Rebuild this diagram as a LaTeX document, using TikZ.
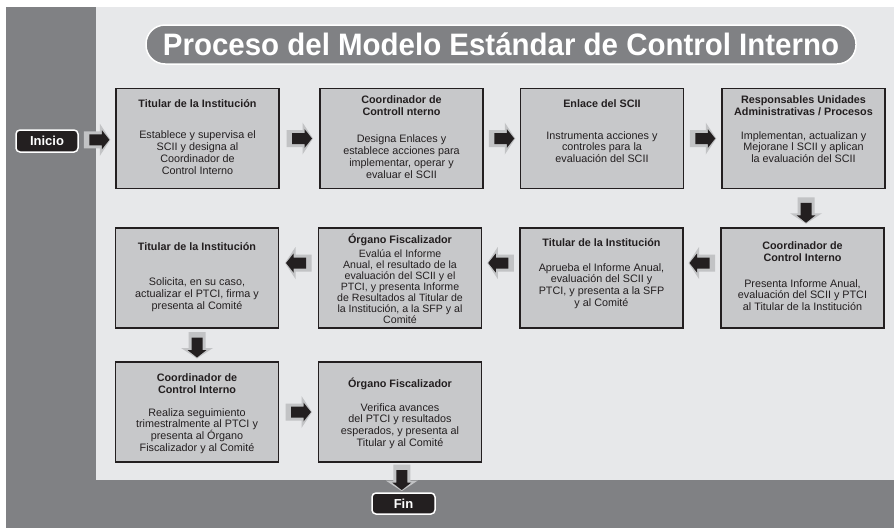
\documentclass[tikz,border=0pt]{standalone}
\usepackage{fontspec}
\setmainfont{Liberation Sans}
\usetikzlibrary{calc}
\definecolor{bglight}{HTML}{E7E8EA}
\definecolor{bgdark}{HTML}{808184}
\definecolor{boxfill}{HTML}{C7C8CA}
\definecolor{boxline}{HTML}{231F20}
\definecolor{arrgray}{HTML}{C2C3C5}
\definecolor{arrblack}{HTML}{231F20}
\definecolor{txt}{HTML}{231F20}
\newcommand{\blockarr}[2]{%
  \begin{scope}[shift={#1}, rotate=#2]
    \fill[arrgray] (-13,-8.5) -- (3,-8.5) -- (3,-16) -- (13.5,0) -- (3,16) -- (3,8.5) -- (-13,8.5) -- cycle;
    \fill[arrblack] (-7.5,-5.5) -- (5,-5.5) -- (5,-9.5) -- (12.5,0) -- (5,9.5) -- (5,5.5) -- (-7.5,5.5) -- cycle;
  \end{scope}}
\begin{document}
\begin{tikzpicture}[x=1pt,y=-1pt,
  procbox/.style={draw=boxline, line width=1.8pt, fill=boxfill, minimum width=163pt, minimum height=100pt, inner sep=0pt},
  ttl/.style={font=\fontsize{10.8}{11.8}\selectfont\bfseries, align=center, inner sep=0pt, text=txt},
  bdy/.style={font=\fontsize{10.8}{11.8}\selectfont, align=center, inner sep=0pt, text=txt},
  bdytight/.style={font=\fontsize{10.6}{11.1}\selectfont, align=center, inner sep=0pt, text=txt},
  endbox/.style={fill=arrblack, draw=white, line width=1.5pt, rounded corners=4pt, text=white, font=\fontsize{13}{13}\selectfont\bfseries, inner sep=0pt}]
\useasboundingbox (0,0) rectangle (894,528);
\fill[white] (0,0) rectangle (894,528);
\fill[bglight] (96,7) rectangle (894,480);
\fill[bgdark] (6,7) rectangle (96,528);
\fill[bgdark] (6,480) rectangle (894,528);
% title
\node[fill=bgdark, draw=white, line width=1.5pt, rounded corners=19pt, minimum width=710pt, minimum height=39pt, inner sep=0pt, text=white] (title) at (501,44.5)
  {\resizebox{676pt}{\height}{\fontsize{31}{31}\selectfont\bfseries Proceso del Modelo Estándar de Control Interno}};
% start / end
\node[endbox, minimum width=62pt, minimum height=22pt] (inicio) at (47,141) {Inicio};
\node[endbox, minimum width=63pt, minimum height=21pt] (fin) at (403.5,503.5) {Fin};
% row 1
\node[procbox] (b1) at (197.5,138.5) {};
\node[procbox] (b2) at (401.5,138.5) {};
\node[procbox] (b3) at (602,138.5) {};
\node[procbox] (b4) at (803.5,138.5) {};
\node[ttl] (b1t) at (197.5,104) {Titular de la Institución};
\node[bdy] (b1b) at (197.5,152.5) {Establece y supervisa el\\SCII y designa al\\Coordinador de\\Control Interno};
\node[ttl] (b2t) at (401.5,106) {Coordinador de\\Controll nterno};
\node[bdy] (b2b) at (401.5,156.5) {Designa Enlaces y\\establece acciones para\\implementar, operar y\\evaluar el SCII};
\node[ttl] (b3t) at (602,104) {Enlace del SCII};
\node[bdy] (b3b) at (602,147) {Instrumenta acciones y\\controles para la\\evaluación del SCII};
\node[ttl] (b4t) at (803.5,106) {Responsables Unidades\\Administrativas / Procesos};
\node[bdy] (b4b) at (803.5,147) {Implementan, actualizan y\\Mejorane l SCII y aplican\\la evaluación del SCII};
% row 2
\node[procbox] (r2a) at (197,278) {};
\node[procbox] (r2b) at (400,278) {};
\node[procbox] (r2c) at (601.5,278) {};
\node[procbox] (r2d) at (802.5,278) {};
\node[ttl] (r2dt) at (802.5,251.5) {Coordinador de\\Control Interno};
\node[bdy] (r2db) at (802.5,295) {Presenta Informe Anual,\\evaluación del SCII y PTCI\\al Titular de la Institución};
\node[ttl] (r2ct) at (601.5,243) {Titular de la Institución};
\node[bdy] (r2cb) at (601.5,286) {Aprueba el Informe Anual,\\evaluación del SCII y\\PTCI, y presenta a la SFP\\y al Comité};
\node[ttl] (r2bt) at (400,240) {Órgano Fiscalizador};
\node[bdytight] (r2bb) at (400,286.5) {Evalúa el Informe\\Anual, el resultado de la\\evaluación del SCII y el\\PTCI, y presenta Informe\\de Resultados al Titular de\\la Institución, a la SFP y al\\Comité};
\node[ttl] (r2at) at (197,247) {Titular de la Institución};
\node[bdy] (r2ab) at (197,295) {Solicita, en su caso,\\actualizar el PTCI, firma y\\presenta al Comité};
% row 3
\node[procbox] (r3a) at (197,412) {};
\node[procbox] (r3b) at (400,412) {};
\node[ttl] (r3at) at (197,384) {Coordinador de\\Control Interno};
\node[bdy] (r3ab) at (197,431) {Realiza seguimiento\\trimestralmente al PTCI y\\presenta al Órgano\\Fiscalizador y al Comité};
\node[ttl] (r3bt) at (400,384) {Órgano Fiscalizador};
\node[bdy] (r3bb) at (400,426) {Verifica avances\\del PTCI y resultados\\esperados, y presenta al\\Titular y al Comité};
% arrows
\blockarr{($(inicio.east)!0.5!(b1.west)$)}{0}
\blockarr{($(b1.east)!0.5!(b2.west)$)}{0}
\blockarr{($(b2.east)!0.5!(b3.west)$)}{0}
\blockarr{($(b3.east)!0.5!(b4.west)$)}{0}
\blockarr{($(b4.south)!0.5!(r2d.north)+(3,2)$)}{-90}
\blockarr{($(r2d.west)!0.5!(r2c.east)+(0,-15)$)}{180}
\blockarr{($(r2c.west)!0.5!(r2b.east)+(0,-15)$)}{180}
\blockarr{($(r2b.west)!0.5!(r2a.east)+(0,-15)$)}{180}
\blockarr{($(r2a.south)!0.5!(r3a.north)$)}{-90}
\blockarr{($(r3a.east)!0.5!(r3b.west)$)}{0}
\blockarr{($(r3b.south)!0.5!(fin.north)$)}{-90}
\end{tikzpicture}
\end{document}
